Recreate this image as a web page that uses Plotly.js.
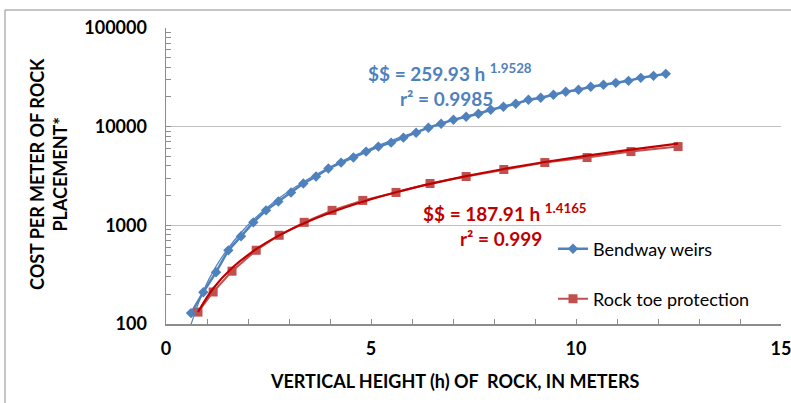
<!DOCTYPE html>
<html>
<head>
<meta charset="utf-8">
<script src="https://cdn.plot.ly/plotly-3.0.1.min.js"></script>
<style>
  html, body { margin: 0; padding: 0; background: #fff; }
  #chart { width: 791px; height: 403px; }
</style>
</head>
<body>
<div id="chart"></div>
<script>
// ---- Data ----
const bendwayH = [0.61, 0.91, 1.22, 1.52, 1.83, 2.13, 2.44, 2.74, 3.05, 3.35, 3.66, 3.96, 4.27, 4.57, 4.88, 5.18, 5.49, 5.79, 6.10, 6.40, 6.71, 7.01, 7.32, 7.62, 7.92, 8.23, 8.53, 8.84, 9.14, 9.45, 9.75, 10.06, 10.36, 10.67, 10.97, 11.28, 11.58, 11.89, 12.19];
const bendwayCost = [129, 210, 335, 558, 774, 1072, 1419, 1746, 2153, 2655, 3126, 3767, 4325, 4863, 5590, 6277, 6889, 7739, 8690, 9767, 10715, 11770, 12620, 13520, 14850, 15920, 17070, 18740, 19630, 21040, 22570, 23660, 25360, 26560, 27810, 29140, 31260, 32730, 34290];

const rockToeH = [0.78, 1.15, 1.61, 2.20, 2.76, 3.37, 4.05, 4.80, 5.61, 6.44, 7.32, 8.24, 9.24, 10.27, 11.34, 12.49];
const rockToeCost = [132, 211, 343, 559, 793, 1072, 1418, 1789, 2154, 2656, 3126, 3680, 4329, 4863, 5590, 6281];

// Power trendlines as labelled on the chart: $$ = a h^b
const bendwayFit = { a: 259.93, b: 1.9528, r2: "0.9985" };
const rockToeFit = { a: 187.91, b: 1.4165, r2: "0.999" };

const seriesNames = ["Bendway weirs", "Rock toe protection"];
const xTickVals = [0, 5, 10, 15];
const xTickText = ["0", "5", "10", "15"];
const yTickVals = [100, 1000, 10000, 100000];
const yTickText = ["100", "1000", "10000", "100000"];

// ---- Layout helpers (pixel -> paper) ----
const L = 166, R = 10, T = 28, B = 79, W = 791, H = 403;
const PW = W - L - R, PH = H - T - B;
const px = x => (x - L) / PW;
const py = y => (H - B - y) / PH;

const FONT = "Lato, 'Open Sans', sans-serif";
const BLUE = "#4F81BD", RED_M = "#C0504D", RED_T = "#C00000";

const fitCurve = (hs, f) => hs.map(h => f.a * Math.pow(h, f.b));

const traces = [
  { x: bendwayH, y: bendwayCost, name: seriesNames[0], type: "scatter", mode: "lines+markers",
    line: { color: BLUE, width: 2.5 }, marker: { symbol: "diamond", size: 8, color: BLUE },
    legend: "legend" },
  { x: rockToeH, y: rockToeCost, name: seriesNames[1], type: "scatter", mode: "lines+markers",
    line: { color: RED_M, width: 2 }, marker: { symbol: "square", size: 9, color: RED_M },
    legend: "legend2" },
  { x: bendwayH, y: fitCurve(bendwayH, bendwayFit), type: "scatter", mode: "lines", showlegend: false,
    line: { color: BLUE, width: 1.2, shape: "spline" }, hoverinfo: "skip", cliponaxis: true },
  { x: rockToeH, y: fitCurve(rockToeH, rockToeFit), type: "scatter", mode: "lines", showlegend: false,
    line: { color: RED_T, width: 2.2, shape: "spline" }, hoverinfo: "skip", cliponaxis: true }
];

const tickFont = { family: FONT, size: 18, color: "#000", weight: "bold" };

const layout = {
  width: W, height: H,
  margin: { l: L, r: R, t: T, b: B, pad: 0 },
  paper_bgcolor: "#fff", plot_bgcolor: "#fff",
  font: { family: FONT },
  xaxis: {
    range: [0, 15], tickvals: xTickVals, ticktext: xTickText,
    showgrid: false, zeroline: false,
    showline: true, linecolor: "#8c8c8c", linewidth: 1.5,
    ticks: "inside", ticklen: 5, tickcolor: "#8c8c8c",
    minor: { dtick: 1, ticks: "inside", ticklen: 5, tickcolor: "#8c8c8c" },
    tickfont: tickFont, ticklabelstandoff: 8, ticklabeloverflow: "allow"
  },
  yaxis: {
    type: "log", range: [2, 5], tickvals: yTickVals, ticktext: yTickText,
    showgrid: true, gridcolor: "#bfbfbf", gridwidth: 1.5, zeroline: false,
    showline: true, linecolor: "#8c8c8c", linewidth: 1.5,
    ticks: "inside", ticklen: 5, tickcolor: "#8c8c8c",
    minor: { dtick: "D1", ticks: "inside", ticklen: 5, tickcolor: "#8c8c8c", showgrid: false },
    tickfont: tickFont, ticklabelstandoff: 14, ticklabeloverflow: "allow"
  },
  legend: {
    x: px(553), y: py(249), xanchor: "left", yanchor: "middle",
    bgcolor: "rgba(0,0,0,0)", font: { family: FONT, size: 18, color: "#000" }
  },
  legend2: {
    x: px(553), y: py(299), xanchor: "left", yanchor: "middle",
    bgcolor: "rgba(0,0,0,0)", font: { family: FONT, size: 18, color: "#000" }
  },
  shapes: [
    { type: "rect", xref: "paper", yref: "paper", x0: px(5), x1: px(820), y0: py(430), y1: py(10),
      line: { color: "#8c8c8c", width: 1 }, fillcolor: "rgba(0,0,0,0)", layer: "below" }
  ],
  annotations: [
    { xref: "paper", yref: "paper", x: px(366), y: py(73), xanchor: "left", yanchor: "middle",
      text: "$$ = " + bendwayFit.a.toFixed(2) + " h <sup>" + bendwayFit.b.toFixed(4) + "</sup>",
      showarrow: false, font: { family: FONT, size: 19, color: BLUE, weight: "bold" } },
    { xref: "paper", yref: "paper", x: px(398), y: py(98), xanchor: "left", yanchor: "middle",
      text: "r² = " + bendwayFit.r2,
      showarrow: false, font: { family: FONT, size: 19, color: BLUE, weight: "bold" } },
    { xref: "paper", yref: "paper", x: px(421), y: py(212), xanchor: "left", yanchor: "middle",
      text: "$$ = " + rockToeFit.a.toFixed(2) + " h <sup>" + rockToeFit.b.toFixed(4) + "</sup>",
      showarrow: false, font: { family: FONT, size: 19, color: RED_T, weight: "bold" } },
    { xref: "paper", yref: "paper", x: px(458), y: py(238), xanchor: "left", yanchor: "middle",
      text: "r² = " + rockToeFit.r2,
      showarrow: false, font: { family: FONT, size: 19, color: RED_T, weight: "bold" } },
    { xref: "paper", yref: "paper", x: px(455), y: py(381), xanchor: "center", yanchor: "middle",
      text: "VERTICAL HEIGHT (h) OF &nbsp;ROCK, IN METERS",
      showarrow: false, font: { family: FONT, size: 18, color: "#000", weight: "bold" } },
    { xref: "paper", yref: "paper", x: px(48), y: py(174), xanchor: "center", yanchor: "middle",
      textangle: -90, text: "COST PER METER OF ROCK<br>PLACEMENT*",
      showarrow: false, font: { family: FONT, size: 18, color: "#000", weight: "bold" } }
  ]
};

Plotly.newPlot("chart", traces, layout, { staticPlot: true, displayModeBar: false });
</script>
</body>
</html>
